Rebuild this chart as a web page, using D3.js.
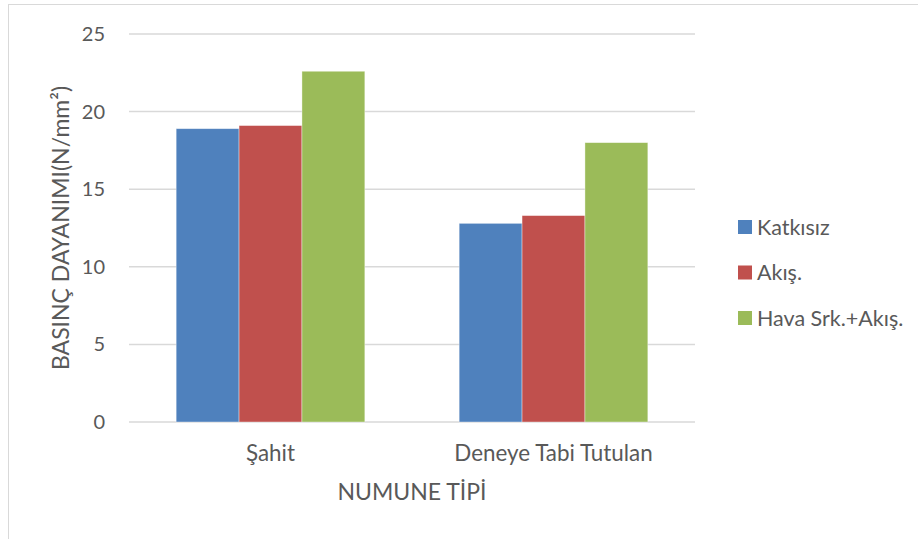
<!DOCTYPE html>
<html>
<head>
<meta charset="utf-8">
<script src="https://cdn.jsdelivr.net/npm/d3@7"></script>
<style>
  html, body { margin: 0; padding: 0; background: #fff; }
  svg { display: block; font-family: Lato, "Open Sans", sans-serif; }
</style>
</head>
<body>
<svg id="chart" width="918" height="539"></svg>
<script>
// Sample types on the x axis
const categories = ["Şahit", "Deneye Tabi Tutulan"];
// Series (mixes) shown in the legend
const seriesNames = ["Katkısız", "Akış.", "Hava Srk.+Akış."];
const seriesColors = ["#4f81bd", "#c0504d", "#9bbb59"];
// Compressive strength values (N/mm²), one array per series
const katkisiz = [18.9, 12.8];
const akis = [19.1, 13.3];
const havaAkis = [22.6, 18.0];
const yTicks = [0, 5, 10, 15, 20, 25];

const seriesValues = [katkisiz, akis, havaAkis];

const svg = d3.select("#chart");
const W = 918, H = 539;
const FONT = "Lato, 'Open Sans', sans-serif";
const TEXT = "#595959";

// chart frame
svg.append("rect")
  .attr("x", 8.5).attr("y", 4.5)
  .attr("width", W - 8).attr("height", H + 10)
  .attr("fill", "#fff").attr("stroke", "#d9d9d9").attr("stroke-width", 1);

const plot = { left: 129, right: 695, top: 34, bottom: 422 };

const x0 = d3.scaleBand().domain(categories)
  .range([plot.left, plot.right]).paddingInner(0).paddingOuter(0);
// gap width 150%: 3 bars + 1.5 bar of gap per category
const bw = x0.bandwidth() / 4.5;
const x1 = d3.scaleBand().domain(seriesNames)
  .range([bw * 0.75, bw * 3.75]).padding(0);

const y = d3.scaleLinear().domain([0, 25]).range([plot.bottom, plot.top]);

// horizontal gridlines
svg.append("g").selectAll("line").data(yTicks).join("line")
  .attr("x1", plot.left).attr("x2", plot.right)
  .attr("y1", d => y(d)).attr("y2", d => y(d))
  .attr("stroke", "#d9d9d9").attr("stroke-width", 1.5);

// y axis tick labels
const yAxis = d3.axisLeft(y).tickValues(yTicks).tickSize(0).tickPadding(0);
const gy = svg.append("g").attr("transform", `translate(${plot.left - 24},0)`).call(yAxis);
gy.select(".domain").remove();
gy.selectAll("text").attr("fill", TEXT).style("font-size", "20px")
  .style("font-family", FONT);

// bars
const groups = svg.append("g").selectAll("g").data(categories).join("g")
  .attr("transform", d => `translate(${x0(d)},0)`);
groups.selectAll("rect")
  .data((c, ci) => seriesNames.map((s, si) => ({ s, si, v: seriesValues[si][ci] })))
  .join("rect")
  .attr("x", d => x1(d.s))
  .attr("width", x1.bandwidth())
  .attr("y", d => y(d.v))
  .attr("height", d => y(0) - y(d.v))
  .attr("fill", d => seriesColors[d.si])
  .attr("stroke", "#ffffff").attr("stroke-opacity", 0.5).attr("stroke-width", 0.75);

// x axis category labels
const xAxis = d3.axisBottom(x0).tickSize(0).tickPadding(0);
const gx = svg.append("g").attr("transform", `translate(0,${plot.bottom + 39})`).call(xAxis);
gx.select(".domain").remove();
gx.selectAll("text").attr("fill", TEXT).attr("dy", 0).style("font-size", "22.4px")
  .style("font-family", FONT);

// axis titles
svg.append("text")
  .attr("x", (plot.left + plot.right) / 2).attr("y", 500)
  .attr("text-anchor", "middle").attr("fill", TEXT)
  .style("font-size", "23px").text("NUMUNE TİPİ");

svg.append("text")
  .attr("transform", `translate(69,${(plot.top + plot.bottom) / 2}) rotate(-90)`)
  .attr("text-anchor", "middle").attr("fill", TEXT)
  .style("font-size", "23px").text("BASINÇ DAYANIMI(N/mm²)");

// legend
const legend = svg.append("g").attr("transform", "translate(738,220)");
const items = legend.selectAll("g").data(seriesNames).join("g")
  .attr("transform", (d, i) => `translate(0,${i * 45.5})`);
items.append("rect").attr("width", 14).attr("height", 14)
  .attr("fill", (d, i) => seriesColors[i]);
items.append("text").attr("x", 19).attr("y", 7).attr("dy", "0.36em")
  .attr("fill", TEXT).style("font-size", "21.5px").text(d => d);
</script>
</body>
</html>
